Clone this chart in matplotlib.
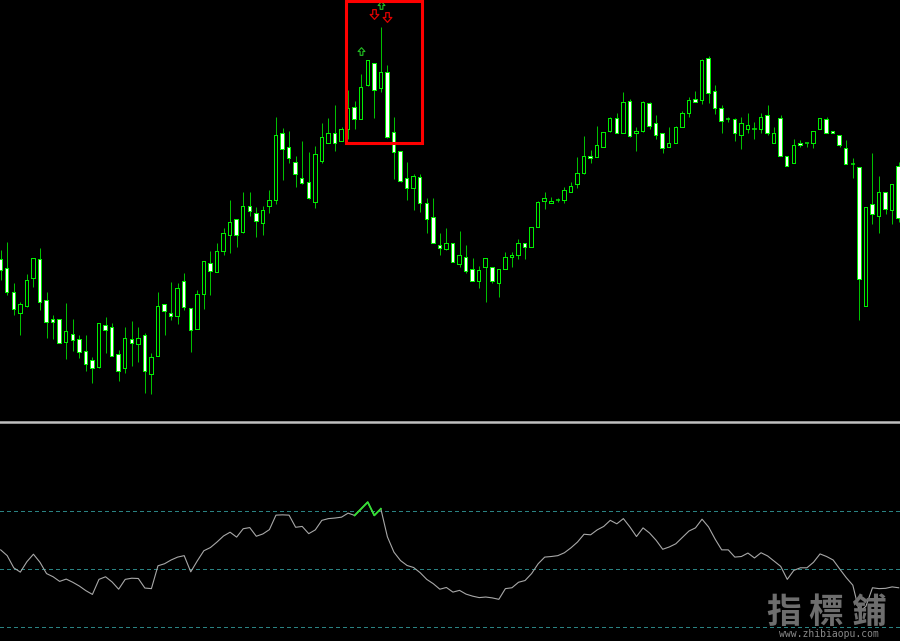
import matplotlib
matplotlib.use("Agg")
import matplotlib.pyplot as plt
import numpy as np
from matplotlib.path import Path
from matplotlib.patches import Rectangle
from matplotlib.lines import Line2D

# ---------------- data (price units) ----------------
opens = [161,152,128,107,114,142,161,120,101,101,
         78,86,81,69,60,53,95,93,66,52,
         81,76,85,46,64,116,107,104,139,112,
         91,126,157,148,169,185,201,188,214,207,
         197,214,220,287,273,258,242,238,218,259,
         277,287,279,291,313,301,335,357,332,348,
         288,269,242,232,243,217,203,175,171,177,
         156,163,151,139,153,153,137,151,163,165,
         177,173,193,219,217,220,220,228,236,247,
         264,263,273,289,302,287,319,287,289,317,
         297,287,273,277,293,307,321,320,362,329,
         312,301,301,285,291,291,291,305,277,302,
         264,257,277,277,277,291,301,289,285,272,
         256,253,114,216,204,228,210,254]
closes = [150,128,111,116,140,162,118,98,98,77,
          89,80,68,56,52,97,90,64,49,82,
          77,82,49,63,114,109,104,132,113,90,
          126,159,149,169,187,198,185,214,209,199,
          210,220,285,271,262,246,237,222,266,283,
          287,277,291,312,301,333,360,330,348,283,
          268,239,232,244,217,201,177,172,177,158,
          165,149,139,150,162,139,151,163,165,177,
          173,193,218,222,219,220,230,234,247,264,
          262,275,288,302,287,318,284,289,318,294,
          285,272,277,293,307,320,318,360,327,312,
          299,301,287,297,295,291,303,287,287,264,
          254,275,275,277,289,302,287,287,275,256,
          256,141,213,206,228,211,236,202]
highs = [170,178,137,118,146,162,172,128,105,101,
         117,101,85,85,63,97,103,97,70,93,
         99,93,87,67,128,116,138,137,147,112,
         130,159,169,177,192,220,201,228,228,213,
         214,230,303,292,289,264,279,268,274,297,
         302,315,293,330,319,346,360,357,393,355,
         303,269,258,246,246,222,222,187,192,177,
         189,175,162,154,162,153,151,168,168,181,
         177,193,219,228,223,222,233,238,263,284,
         270,294,288,303,307,328,321,293,319,318,
         305,287,293,294,309,323,329,361,364,335,
         315,303,302,303,307,298,307,315,293,305,
         264,281,280,277,289,302,303,289,285,280,
         262,253,213,267,244,228,236,258]
lows = [140,125,105,85,113,133,110,82,81,77,
        61,69,62,49,37,52,67,64,39,47,
        54,58,27,26,64,85,100,96,110,68,
        91,111,125,148,165,167,173,187,204,183,
        185,207,216,240,257,233,236,221,212,257,
        277,269,279,281,291,301,334,302,328,282,
        241,238,220,210,208,187,177,165,170,158,
        153,147,139,132,118,137,123,151,153,161,
        161,173,193,211,217,218,217,228,232,246,
        257,263,273,288,287,287,283,269,288,291,
        281,267,273,277,293,303,318,316,317,306,
        287,298,279,271,287,281,287,285,277,264,
        254,257,273,273,272,291,287,287,273,256,
        242,100,114,196,187,206,196,198]

# oscillator (RSI-like) values, one per candle
rsi = [56.5,54.5,50.3,48.8,52.4,55.0,52.2,48.3,47.2,45.6,
       46.4,45.3,44.0,42.4,41.1,46.3,47.2,45.4,42.9,46.3,
       46.7,46.6,43.3,43.1,51.0,51.7,53.0,54.0,54.5,48.9,
       52.7,56.2,57.3,59.2,61.3,62.6,60.9,63.8,64.2,61.2,
       62.0,63.5,68.5,68.6,68.5,64.3,64.6,62.1,63.4,66.7,
       67.3,67.5,67.8,69.2,68.4,70.7,73.0,68.4,70.7,61.0,
       55.7,52.8,51.1,50.4,48.6,46.3,44.8,42.9,43.5,41.9,
       42.5,41.2,40.5,40.0,40.2,39.9,39.4,43.1,43.4,45.3,
       45.9,48.3,51.7,54.0,54.2,54.5,55.5,57.2,59.2,61.9,
       61.7,63.4,64.6,66.7,65.5,67.3,64.4,61.1,64.1,62.3,
       59.8,56.7,57.5,58.6,60.8,63.0,64.1,67.1,64.4,60.2,
       56.5,56.5,54.0,54.2,55.4,53.7,55.5,54.4,52.6,50.8,
       46.3,49.4,50.3,50.3,52.2,55.1,54.2,53.0,49.9,46.9,
       44.3,35.0,37.0,43.4,43.1,43.2,43.7,43.4]
rsi_levels = [70, 50, 30]
signal_span = (54, 58)          # oscillator segment highlighted in green

up_arrow_idx = [55, 58]
up_arrow_val = [369, 415]
down_arrow_idx = [57, 59]
down_arrow_val = [406, 403]

box_idx = (52.75, 64.35)        # red highlight box, candle index span
box_val = (277, 419)            # and price span

# ---------------- figure ----------------
W, H = 900, 641
PX = 72 / 100                   # one pixel in points
fig = plt.figure(figsize=(W / 100, H / 100), dpi=100, facecolor="black")
top_h = 420 / H
ax = fig.add_axes([0, 1 - top_h, 1, top_h])
ax2 = fig.add_axes([0, 0, 1, 217 / H])
for a in (ax, ax2):
    a.set_facecolor("black")
    a.set_xticks([]); a.set_yticks([])
    for s in a.spines.values():
        s.set_visible(False)

n = len(opens)
x = np.arange(n)
o = np.array(opens, float); c = np.array(closes, float)
hi = np.array(highs, float); lo = np.array(lows, float)

xlim = (-0.1, n - 0.8)
ux = (xlim[1] - xlim[0]) / W     # one pixel in x data units
uy = 420 / 420                   # one pixel in price units

wick_c = "#00c000"
edge_c = "#00ee00"
bw = 0.68

ax.vlines(x, lo, hi, color=wick_c, lw=PX, zorder=1)
bear = c < o
doji = c == o
body_lo = np.minimum(o, c)
body_h = np.abs(o - c)
solid = ~doji
# outer (outline colour)
ax.bar(x[solid], body_h[solid] + uy, bottom=body_lo[solid] - uy / 2, width=bw,
       color=edge_c, linewidth=0, zorder=2)
# inner fill: white for bearish, black for bullish
inner = solid & (body_h > uy)
fill = np.where(bear, "white", "black")
ax.bar(x[inner], body_h[inner] - uy, bottom=body_lo[inner] + uy / 2,
       width=bw - 2 * ux, color=list(fill[inner]), linewidth=0, zorder=3)
ax.hlines(o[doji], x[doji] - bw / 2, x[doji] + bw / 2, color=edge_c,
          lw=PX * 1.5, zorder=2)

# arrows
up_verts = [(-0.18, -0.5), (0.18, -0.5), (0.18, 0.0), (0.45, 0.0), (0.0, 0.5),
            (-0.45, 0.0), (-0.18, 0.0), (-0.18, -0.5)]
dn_verts = [(vx, -vy) for vx, vy in up_verts]
up_m = Path(up_verts, closed=True)
dn_m = Path(dn_verts, closed=True)
ax.plot(up_arrow_idx, up_arrow_val, ls="none", marker=up_m, markersize=5.5,
        markerfacecolor="none", markeredgecolor="#22c022", markeredgewidth=0.8, zorder=4)
ax.plot(down_arrow_idx, down_arrow_val, ls="none", marker=dn_m, markersize=7,
        markerfacecolor="none", markeredgecolor="#e00000", markeredgewidth=0.9, zorder=4)

ax.add_patch(Rectangle((box_idx[0], box_val[0]), box_idx[1] - box_idx[0],
                       box_val[1] - box_val[0], fill=False, edgecolor="#ff0000",
                       linewidth=2.2, zorder=5))

ax.set_xlim(*xlim)
ax.set_ylim(0, 420)

# divider
fig.add_artist(Line2D([0, 1], [1 - 422 / H] * 2, transform=fig.transFigure,
                      color="#c0c0c0", lw=1.8))

# oscillator
for lev in rsi_levels:
    ax2.axhline(lev, color="#2a8282", lw=PX, ls=(0, (3, 3)), zorder=1,
                antialiased=False)
r = np.array(rsi)
ax2.plot(x, r, color="#a8a8a8", lw=0.8, zorder=2)
s0, s1 = signal_span
ax2.plot(x[s0:s1 + 1], r[s0:s1 + 1], color="#33e033", lw=1.3, zorder=3)
ax2.set_xlim(*xlim)
ax2.set_ylim(25, 100)

# watermark
cjk = ["Noto Sans CJK TC", "DejaVu Sans"]
for ch, cx in zip("指標鋪", [784, 826, 868]):
    fig.text(cx / W, 1 - 612 / H, ch, family=cjk, fontsize=25, fontweight="bold",
             color="#6e6e6e", ha="center", va="center", zorder=10)
fig.text(829 / W, 1 - 634 / H, "www.zhibiaopu.com", family="DejaVu Sans Mono",
         fontsize=7, color="#8a8a8a", ha="center", va="center", zorder=10)

fig.savefig("out.png", dpi=100, facecolor="black")
